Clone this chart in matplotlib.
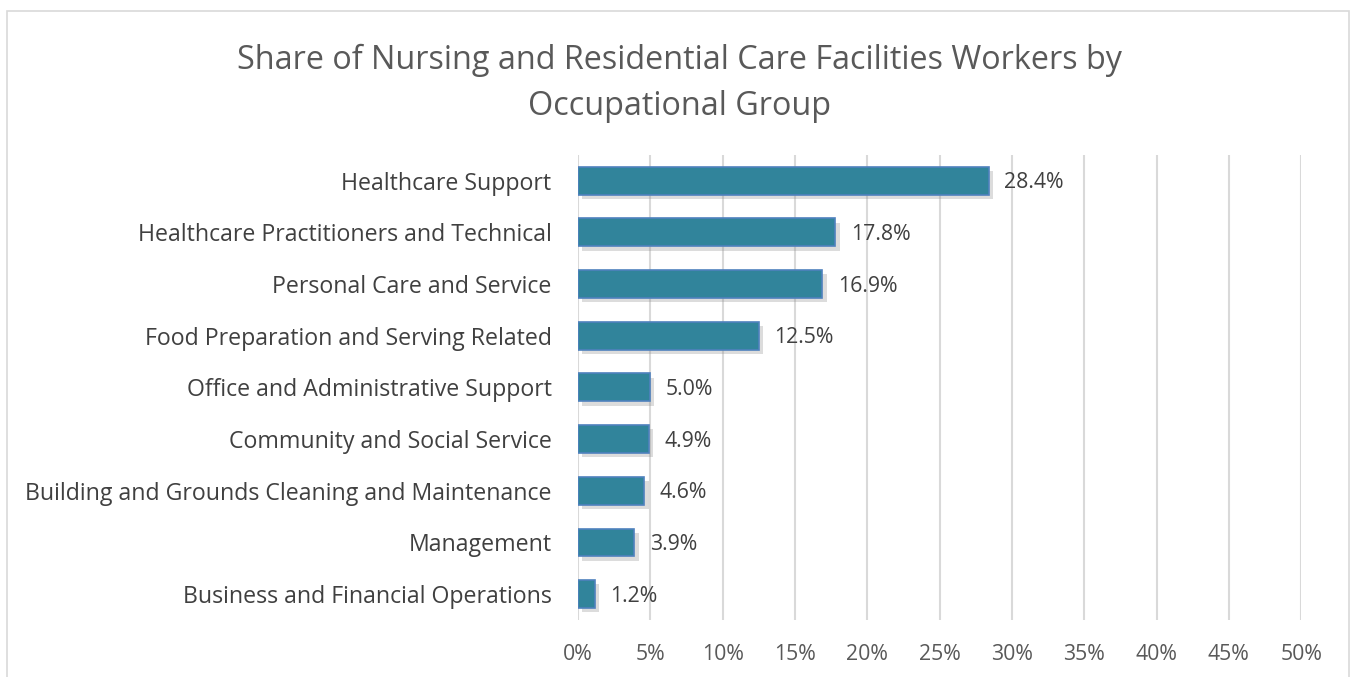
import matplotlib.pyplot as plt
import matplotlib.patheffects as pe
from matplotlib.patches import Rectangle
from matplotlib.ticker import FuncFormatter

categories = [
    "Healthcare Support",
    "Healthcare Practitioners and Technical",
    "Personal Care and Service",
    "Food Preparation and Serving Related",
    "Office and Administrative Support",
    "Community and Social Service",
    "Building and Grounds Cleaning and Maintenance",
    "Management",
    "Business and Financial Operations",
]
shares = [28.4, 17.8, 16.9, 12.5, 5.0, 4.9, 4.6, 3.9, 1.2]
xticks = [0, 5, 10, 15, 20, 25, 30, 35, 40, 45, 50]

plt.rcParams["font.family"] = ["Open Sans", "DejaVu Sans"]

fig = plt.figure(figsize=(13.51, 6.77), dpi=100)
ax = fig.add_axes([0.4278, 0.0842, 0.5353, 0.687])

# outer chart frame
fig.patches.append(Rectangle((7 / 1351, -0.05), 1342 / 1351, 1.05 - 11 / 677,
                             transform=fig.transFigure, fill=False,
                             edgecolor="#D9D9D9", linewidth=1.2))

ypos = list(range(len(categories)))
bars = ax.barh(ypos, shares, height=0.54, color="#31849B", edgecolor="#4F81BD",
               linewidth=1.2, zorder=3)
for b in bars:
    b.set_path_effects([pe.SimplePatchShadow(offset=(3, -3), shadow_rgbFace="#8C8C8C", alpha=0.3),
                        pe.Normal()])

for y, v in zip(ypos, shares):
    ax.annotate(f"{v:.1f}%", (v, y), xytext=(11, -1.5), textcoords="offset points",
                va="center", ha="left", fontsize=15.3, color="#404040")

ax.set_ylim(len(categories) - 0.5, -0.5)
ax.set_xlim(0, 50)
ax.set_yticks(ypos)
ax.set_yticklabels(categories, fontsize=16.7, color="#404040")
ax.set_xticks(xticks)
ax.xaxis.set_major_formatter(FuncFormatter(lambda v, p: f"{v:.0f}%"))
ax.tick_params(axis="x", labelsize=15.3, colors="#595959", length=0, pad=17)
ax.tick_params(axis="y", length=0, pad=19)
ax.grid(axis="x", color="#D9D9D9", linewidth=1.5, zorder=0)
for s in ax.spines.values():
    s.set_visible(False)

fig.text(0.5026, 0.877, "Share of Nursing and Residential Care Facilities Workers by\nOccupational Group",
         ha="center", va="center", fontsize=23.3, color="#595959", linespacing=1.5)

fig.savefig("out.png", dpi=100)
